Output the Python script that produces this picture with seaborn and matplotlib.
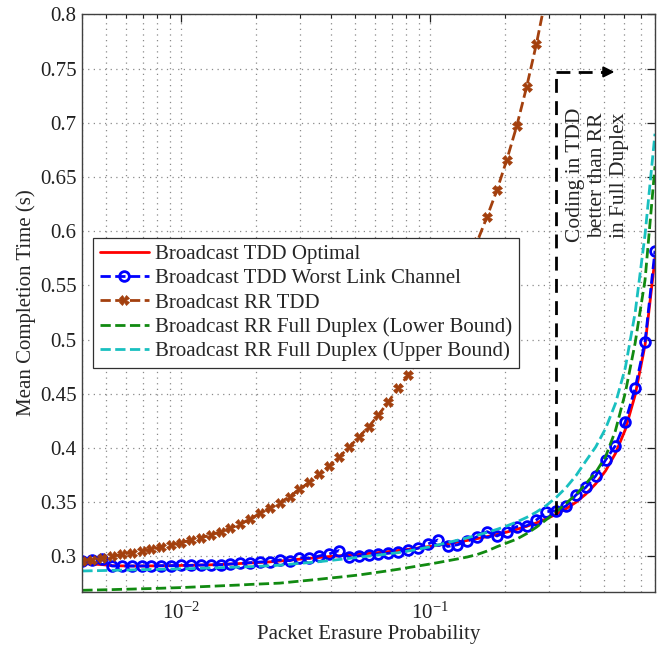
import numpy as np
import pandas as pd
import matplotlib
matplotlib.use("Agg")
import matplotlib.pyplot as plt
from matplotlib.ticker import FuncFormatter, LogLocator, NullFormatter
import seaborn as sns

# ─────────────────────────────────────────────
# DATA
# ─────────────────────────────────────────────
erasure_prob = [
    0.004000, 0.004383, 0.004802, 0.005261, 0.005764, 0.006315, 0.006919, 0.007581,
    0.008306, 0.009101, 0.009971, 0.010925, 0.011969, 0.013114, 0.014368, 0.015742,
    0.017248, 0.018898, 0.020705, 0.022685, 0.024855, 0.027232, 0.029836, 0.032690,
    0.035816, 0.039242, 0.042995, 0.047107, 0.051613, 0.056549, 0.061957, 0.067883,
    0.074375, 0.081489, 0.089283, 0.097822, 0.10718, 0.11743, 0.12866, 0.14096,
    0.15445, 0.16922, 0.18540, 0.20314, 0.22256, 0.24385, 0.26717, 0.29272,
    0.32072, 0.35139, 0.38500, 0.42182, 0.46216, 0.50637, 0.55480, 0.60786,
    0.66600, 0.72970, 0.80000,
]

tdd_optimal = [
    0.2935, 0.2930, 0.2925, 0.2915, 0.2913, 0.2912, 0.2912, 0.2913,
    0.2914, 0.2915, 0.2917, 0.2919, 0.2921, 0.2923, 0.2926, 0.2930,
    0.2935, 0.2940, 0.2945, 0.2950, 0.2958, 0.2966, 0.2975, 0.2983,
    0.2991, 0.2999, 0.3006, 0.3013, 0.3020, 0.3028, 0.3036, 0.3045,
    0.3055, 0.3066, 0.3078, 0.3090, 0.3103, 0.3117, 0.3132, 0.3148,
    0.3165, 0.3183, 0.3203, 0.3225, 0.3250, 0.3278, 0.3310, 0.3347,
    0.3390, 0.3440, 0.3500, 0.3575, 0.3670, 0.3790, 0.3950, 0.4170,
    0.4490, 0.4950, 0.5750,
]

tdd_worst_link = [
    0.2958, 0.2966, 0.2972, 0.2912, 0.2912, 0.2912, 0.2912, 0.2912,
    0.2915, 0.2915, 0.2918, 0.2918, 0.2921, 0.2921, 0.2924, 0.2930,
    0.2937, 0.2943, 0.2949, 0.2952, 0.2968, 0.2961, 0.2989, 0.2983,
    0.3005, 0.3023, 0.3054, 0.2993, 0.3005, 0.3014, 0.3023, 0.3029,
    0.3044, 0.3060, 0.3075, 0.3115, 0.3152, 0.3092, 0.3108, 0.3140,
    0.3183, 0.3229, 0.3189, 0.3229, 0.3275, 0.3282, 0.3337, 0.3413,
    0.3422, 0.3466, 0.3567, 0.3638, 0.3743, 0.3890, 0.4022, 0.4244,
    0.4552, 0.4982, 0.5820,
]

rr_tdd = [
    0.2959, 0.2968, 0.2983, 0.3000, 0.3020, 0.3035, 0.3050, 0.3066,
    0.3090, 0.3106, 0.3127, 0.3152, 0.3173, 0.3198, 0.3229, 0.3260,
    0.3300, 0.3345, 0.3398, 0.3450, 0.3496, 0.3552, 0.3620, 0.3684,
    0.3760, 0.3835, 0.3915, 0.4007, 0.4100, 0.4197, 0.4305, 0.4428,
    0.4552, 0.4675, 0.4810, 0.4960, 0.5125, 0.5305, 0.5495, 0.5695,
    0.5905, 0.6135, 0.6380, 0.6660, 0.6970, 0.7330, 0.7730, 0.8180,
]

rr_fd_lower = [
    0.2688, 0.2690, 0.2692, 0.2694, 0.2697, 0.2699, 0.2702, 0.2704,
    0.2707, 0.2710, 0.2713, 0.2717, 0.2721, 0.2725, 0.2729, 0.2733,
    0.2737, 0.2742, 0.2746, 0.2750, 0.2754, 0.2763, 0.2772, 0.2781,
    0.2790, 0.2800, 0.2809, 0.2819, 0.2829, 0.2842, 0.2855, 0.2868,
    0.2882, 0.2897, 0.2912, 0.2927, 0.2943, 0.2960, 0.2977, 0.2995,
    0.3018, 0.3050, 0.3090, 0.3125, 0.3160, 0.3210, 0.3270, 0.3340,
    0.3410, 0.3490, 0.3570, 0.3670, 0.3775, 0.3920, 0.4160, 0.4510,
    0.4970, 0.5550, 0.6600,
]

rr_fd_upper = [
    0.2866, 0.2868, 0.2870, 0.2872, 0.2874, 0.2876, 0.2878, 0.2880,
    0.2882, 0.2884, 0.2886, 0.2888, 0.2891, 0.2894, 0.2897, 0.2900,
    0.2903, 0.2906, 0.2910, 0.2914, 0.2920, 0.2928, 0.2936, 0.2944,
    0.2952, 0.2962, 0.2972, 0.2982, 0.2993, 0.3003, 0.3013, 0.3024,
    0.3035, 0.3050, 0.3066, 0.3085, 0.3106, 0.3128, 0.3150, 0.3172,
    0.3196, 0.3222, 0.3250, 0.3282, 0.3318, 0.3360, 0.3410, 0.3470,
    0.3545, 0.3635, 0.3745, 0.3880, 0.4010, 0.4180, 0.4410, 0.4740,
    0.5250, 0.5970, 0.6900,
]

series_labels = [
    "Broadcast TDD Optimal",
    "Broadcast TDD Worst Link Channel",
    "Broadcast RR TDD",
    "Broadcast RR Full Duplex (Lower Bound)",
    "Broadcast RR Full Duplex (Upper Bound)",
]

# boundary where coding in TDD beats RR in full duplex
boundary_p = 0.3207
boundary_y = [0.298, 0.747]
arrow_end_p = 0.55
annotation_text = "Coding in TDD\nbetter than RR\nin Full Duplex"

# ─────────────────────────────────────────────
# STYLE
# ─────────────────────────────────────────────
sns.set_theme(style="white")
plt.rcParams["font.family"] = ["Liberation Serif", "DejaVu Serif"]
plt.rcParams["mathtext.fontset"] = "stix"
plt.rcParams["axes.edgecolor"] = "#404040"
plt.rcParams["axes.linewidth"] = 1.0

fig = plt.figure(figsize=(6.6, 6.49), dpi=100)
ax = fig.add_axes([0.1247, 0.0883, 0.8677, 0.8894])

# ─────────────────────────────────────────────
# CURVES
# ─────────────────────────────────────────────
n_rr = len(rr_tdd)
df_main = pd.DataFrame({"p": erasure_prob, "opt": tdd_optimal, "worst": tdd_worst_link,
                        "lower": rr_fd_lower, "upper": rr_fd_upper})
df_rr = pd.DataFrame({"p": erasure_prob[:n_rr], "rr": rr_tdd})

sns.lineplot(data=df_main, x="p", y="opt", ax=ax, color="#ff0000", lw=2.0,
             label=series_labels[0])
sns.lineplot(data=df_main, x="p", y="worst", ax=ax, color="#0000ff", lw=2.0,
             linestyle="--", marker="o", markersize=7, markerfacecolor="none",
             markeredgecolor="#0000ff", markeredgewidth=2.0, label=series_labels[1])
sns.lineplot(data=df_rr, x="p", y="rr", ax=ax, color="#a3400e", lw=2.0,
             linestyle="--", marker="X", markersize=7, markeredgewidth=0.5,
             markeredgecolor="#a3400e", label=series_labels[2])
sns.lineplot(data=df_main, x="p", y="lower", ax=ax, color="#118a11", lw=2.0,
             linestyle="--", label=series_labels[3])
sns.lineplot(data=df_main, x="p", y="upper", ax=ax, color="#19c0c0", lw=2.0,
             linestyle="--", label=series_labels[4])

# boundary marker + arrow
ax.plot([boundary_p, boundary_p], boundary_y, color="black", lw=2.0, linestyle=(0, (5, 3)))
ax.plot([boundary_p, arrow_end_p * 0.93], [boundary_y[1], boundary_y[1]],
        color="black", lw=2.0, linestyle=(0, (5, 3)))
ax.annotate("", xy=(arrow_end_p, boundary_y[1]), xytext=(arrow_end_p * 0.9, boundary_y[1]),
            arrowprops=dict(arrowstyle="-|>", color="black", lw=1.5,
                            mutation_scale=16, shrinkA=0, shrinkB=0))
ax.text(0.47, 0.652, annotation_text, rotation=90, ha="center", va="center",
        multialignment="center", fontsize=15.5, linespacing=1.2)

# ─────────────────────────────────────────────
# AXES
# ─────────────────────────────────────────────
ax.set_xscale("log")
ax.set_xlim(0.004, 0.8)
ax.set_ylim(0.2675, 0.8)
ax.set_yticks(np.arange(0.3, 0.801, 0.05))
ax.yaxis.set_major_formatter(FuncFormatter(lambda v, _: f"{v:g}"))
ax.xaxis.set_minor_locator(LogLocator(base=10, subs=np.arange(2, 10), numticks=20))
ax.xaxis.set_minor_formatter(NullFormatter())

grid_style = dict(color="#8a8a8a", linestyle=(0, (1, 3.5)), linewidth=0.9)
ax.grid(True, which="major", axis="both", **grid_style)
ax.grid(True, which="minor", axis="x", **grid_style)

ax.tick_params(axis="both", which="both", direction="in", top=True, right=True,
               labelsize=15, colors="#202020")
ax.tick_params(axis="both", which="major", length=6, width=0.9, pad=4)
ax.tick_params(axis="x", which="major", pad=8)
ax.tick_params(axis="x", which="minor", length=3, width=0.8)
ax.tick_params(axis="y", which="minor", left=False, right=False)

ax.set_xlabel("Packet Erasure Probability", fontsize=15, labelpad=1)
ax.set_ylabel("Mean Completion Time (s)", fontsize=15, labelpad=3)

leg = ax.legend(loc="upper left", bbox_to_anchor=(0.0187, 0.6128), borderaxespad=0,
                fontsize=15, fancybox=False, framealpha=1, edgecolor="#303030",
                handlelength=2.35, handletextpad=0.3, borderpad=0.32, labelspacing=0.22)
leg.get_frame().set_linewidth(0.9)

fig.savefig("out.png", dpi=100)
